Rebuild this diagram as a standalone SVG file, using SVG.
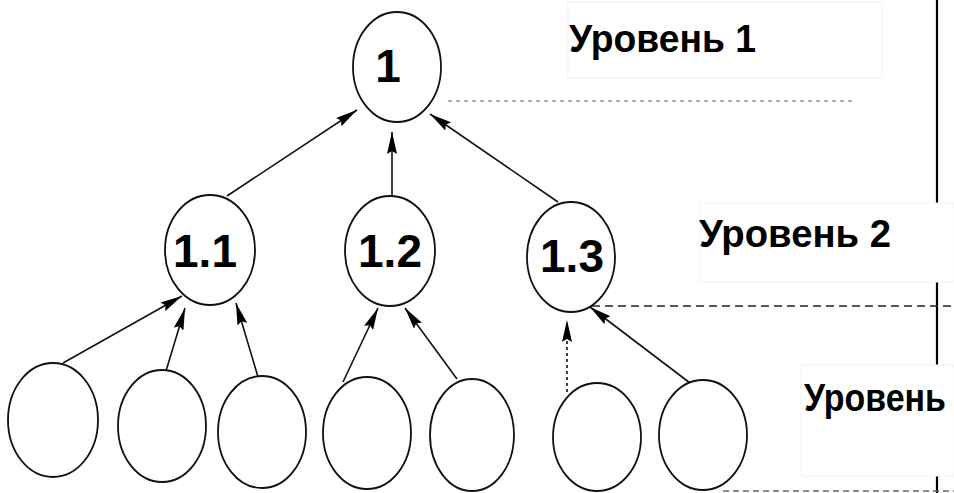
<svg xmlns="http://www.w3.org/2000/svg" width="954" height="493" viewBox="0 0 954 493">
<style>
.node{fill:#fff;stroke:#111;stroke-width:1.8}
.nl{font-family:"Liberation Sans",Arial,sans-serif;font-weight:bold;font-size:46px;fill:#000;text-anchor:middle}
.lvl{font-family:"Liberation Sans",Arial,sans-serif;font-weight:bold;font-size:39px;fill:#000}
.box{fill:#fff;stroke:#f2f2f2;stroke-width:1}
.edge{stroke:#111;stroke-width:1.6;fill:none;marker-end:url(#arr)}
</style>
<defs>
<marker id="arr" markerUnits="userSpaceOnUse" viewBox="0 0 22 10" refX="22" refY="5" markerWidth="22" markerHeight="10" orient="auto">
<path d="M0,0 L22,5 L0,10 L3,5 z" fill="#000"/>
</marker>
</defs>
<rect width="954" height="493" fill="#fff"/>
<g id="level-lines">
<line x1="937" y1="0" x2="937" y2="493" stroke="#000" stroke-width="2.2"/>
<line x1="448" y1="101" x2="852" y2="101" stroke="#999" stroke-width="1.5" stroke-dasharray="4 4"/>
<line x1="592" y1="306" x2="954" y2="306" stroke="#222" stroke-width="1.6" stroke-dasharray="8 5"/>
<line x1="723" y1="491" x2="954" y2="491" stroke="#666" stroke-width="1.6" stroke-dasharray="6 4"/>
</g>
<g id="level1-label">
<rect class="box" x="568" y="2" width="314" height="76"/>
<text class="lvl" x="569" y="52" textLength="187" lengthAdjust="spacingAndGlyphs">Уровень 1</text>
</g>
<g id="level2-label">
<rect class="box" x="700" y="203" width="254" height="79"/>
<text class="lvl" x="699" y="247" font-size="41" textLength="192" lengthAdjust="spacingAndGlyphs">Уровень 2</text>
</g>
<rect class="box" x="801" y="365" width="153" height="111"/>
<g id="level3-label">
<text class="lvl" x="804" y="411" font-size="37" textLength="142" lengthAdjust="spacingAndGlyphs">Уровень</text>
</g>
<g id="connectors">
<line class="edge" x1="227" y1="196" x2="357" y2="110"/>
<line class="edge" x1="392" y1="196" x2="392" y2="132"/>
<line class="edge" x1="558" y1="202" x2="430" y2="114"/>
<line class="edge" x1="63" y1="363" x2="182" y2="296"/>
<line class="edge" x1="166" y1="371" x2="185" y2="308"/>
<line class="edge" x1="258" y1="377" x2="236" y2="303"/>
<line class="edge" x1="343" y1="382" x2="378" y2="308"/>
<line class="edge" x1="457" y1="379" x2="405" y2="308"/>
<line class="edge" x1="567" y1="392" x2="567" y2="320" stroke-dasharray="3 3"/>
<line class="edge" x1="690" y1="383" x2="590" y2="307"/>
</g>
<g id="node-1">
<ellipse class="node" cx="397" cy="67" rx="44" ry="55"/>
<text class="nl" x="388" y="82">1</text>
</g>
<g id="node-1-1">
<ellipse class="node" cx="210" cy="250" rx="45" ry="55"/>
<text class="nl" x="205" y="267">1.1</text>
</g>
<g id="node-1-2">
<ellipse class="node" cx="390" cy="251" rx="45" ry="55"/>
<text class="nl" x="390" y="267">1.2</text>
</g>
<g id="node-1-3">
<ellipse class="node" cx="571" cy="257" rx="44" ry="55"/>
<text class="nl" x="572" y="272">1.3</text>
</g>
<g id="node-3-1"><ellipse class="node" cx="53" cy="420" rx="45" ry="57"/></g>
<g id="node-3-2"><ellipse class="node" cx="162" cy="426" rx="44" ry="56"/></g>
<g id="node-3-3"><ellipse class="node" cx="262" cy="432" rx="44" ry="56"/></g>
<g id="node-3-4"><ellipse class="node" cx="367" cy="433" rx="44" ry="56"/></g>
<g id="node-3-5"><ellipse class="node" cx="472" cy="435" rx="42" ry="56"/></g>
<g id="node-3-6"><ellipse class="node" cx="597" cy="437" rx="44" ry="54"/></g>
<g id="node-3-7"><ellipse class="node" cx="703" cy="435" rx="44" ry="55"/></g>
</svg>
